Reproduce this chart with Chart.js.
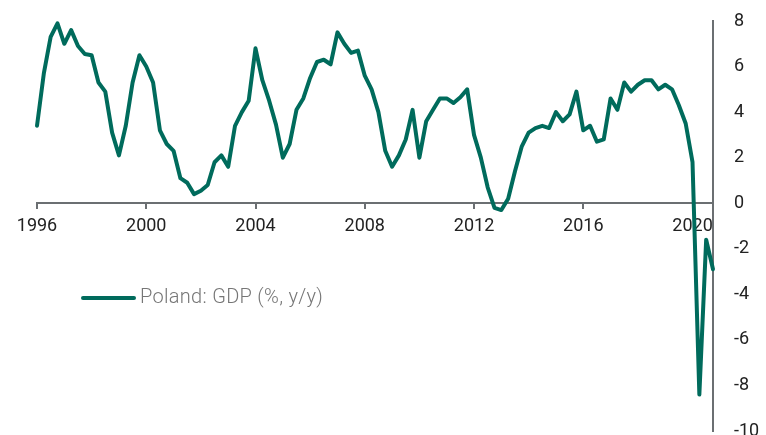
<!DOCTYPE html>
<html>
<head>
<meta charset="utf-8">
<script src="https://cdn.jsdelivr.net/npm/chart.js@4"></script>
<style>
  html, body { margin: 0; padding: 0; background: #fff; }
  #wrap { width: 766px; height: 435px; position: relative; }
</style>
</head>
<body>
<div id="wrap"><canvas id="grafico"></canvas></div>
<script>
// Dados (trimestrais, % a/a)
const anos = [1996, 1997, 1998, 1999, 2000, 2001, 2002, 2003, 2004, 2005, 2006, 2007, 2008,
  2009, 2010, 2011, 2012, 2013, 2014, 2015, 2016, 2017, 2018, 2019, 2020];
const trimestres = anos.flatMap(a => ["Q1", "Q2", "Q3", "Q4"].map(q => a + " " + q));
const anosVisiveis = ["1996", "2000", "2004", "2008", "2012", "2016", "2020"];
const pib = [
  3.4, 5.7, 7.3, 7.9,
  7.0, 7.6, 6.9, 6.55,
  6.5, 5.3, 4.9, 3.1,
  2.1, 3.4, 5.3, 6.5,
  6.0, 5.3, 3.2, 2.6,
  2.3, 1.1, 0.9, 0.4,
  0.55, 0.8, 1.8, 2.1,
  1.6, 3.4, 4.0, 4.5,
  6.8, 5.4, 4.5, 3.45,
  2.0, 2.6, 4.1, 4.6,
  5.5, 6.2, 6.3, 6.1,
  7.5, 7.0, 6.6, 6.7,
  5.6, 5.0, 4.0, 2.3,
  1.6, 2.1, 2.8, 4.1,
  2.0, 3.6, 4.1, 4.6,
  4.6, 4.4, 4.65, 5.0,
  3.0, 2.0, 0.7, -0.2,
  -0.3, 0.2, 1.4, 2.5,
  3.1, 3.3, 3.4, 3.3,
  4.0, 3.6, 3.9, 4.9,
  3.2, 3.4, 2.7, 2.8,
  4.6, 4.1, 5.3, 4.9,
  5.2, 5.4, 5.4, 5.0,
  5.2, 5.0, 4.3, 3.5,
  1.8, -8.4, -1.6, -2.9
];
const rotulo = "Poland: GDP (%, y/y)";

const verde = "#006b5c";
const cinza = "#6b6f72";
const fonte = { family: "Roboto", size: 18, weight: "normal" };

// Legenda desenhada dentro do gráfico
const legendaInterna = {
  id: "legendaInterna",
  afterDraw(chart) {
    const ctx = chart.ctx;
    const ds = chart.data.datasets[0];
    ctx.save();
    ctx.strokeStyle = ds.borderColor;
    ctx.lineWidth = 4;
    ctx.lineCap = "round";
    ctx.beginPath();
    ctx.moveTo(83, 298);
    ctx.lineTo(134, 298);
    ctx.stroke();
    ctx.fillStyle = "#767676";
    ctx.font = "300 20px Roboto";
    ctx.letterSpacing = "0.3px";
    ctx.textBaseline = "middle";
    ctx.fillText(ds.label, 140, 298);
    ctx.restore();
  }
};

new Chart(document.getElementById("grafico"), {
  type: "line",
  data: {
    labels: trimestres,
    datasets: [{
      label: rotulo,
      data: pib,
      borderColor: verde,
      borderWidth: 4,
      pointRadius: 0,
      tension: 0,
      borderCapStyle: "round",
      borderJoinStyle: "round",
      clip: false
    }]
  },
  options: {
    responsive: true,
    maintainAspectRatio: false,
    animation: false,
    layout: { padding: { top: 21, bottom: 4, left: 37, right: 0 } },
    plugins: { legend: { display: false }, tooltip: { enabled: false } },
    scales: {
      x: {
        type: "category",
        position: { y: 0 },
        offset: false,
        border: { display: true, color: cinza, width: 2 },
        grid: { display: true, drawOnChartArea: false, drawTicks: true, tickLength: 5, color: cinza, lineWidth: 2 },
        ticks: {
          autoSkip: false,
          maxRotation: 0,
          padding: 7,
          color: "#222",
          font: fonte,
          callback(value) {
            const l = this.getLabelForValue(value);
            const [ano, q] = l.split(" ");
            return (q === "Q1" && anosVisiveis.includes(ano)) ? ano : null;
          }
        }
      },
      y: {
        position: "right",
        min: -10,
        max: 8,
        border: { display: true, color: cinza, width: 2 },
        grid: { display: false, drawTicks: false },
        ticks: { stepSize: 2, padding: 21, color: "#222", font: fonte, crossAlign: "near" },
        afterFit(scale) {
          scale.width = 53;
          scale.paddingTop = 0;
          scale.paddingBottom = 0;
        }
      }
    }
  },
  plugins: [legendaInterna]
});
</script>
</body>
</html>
